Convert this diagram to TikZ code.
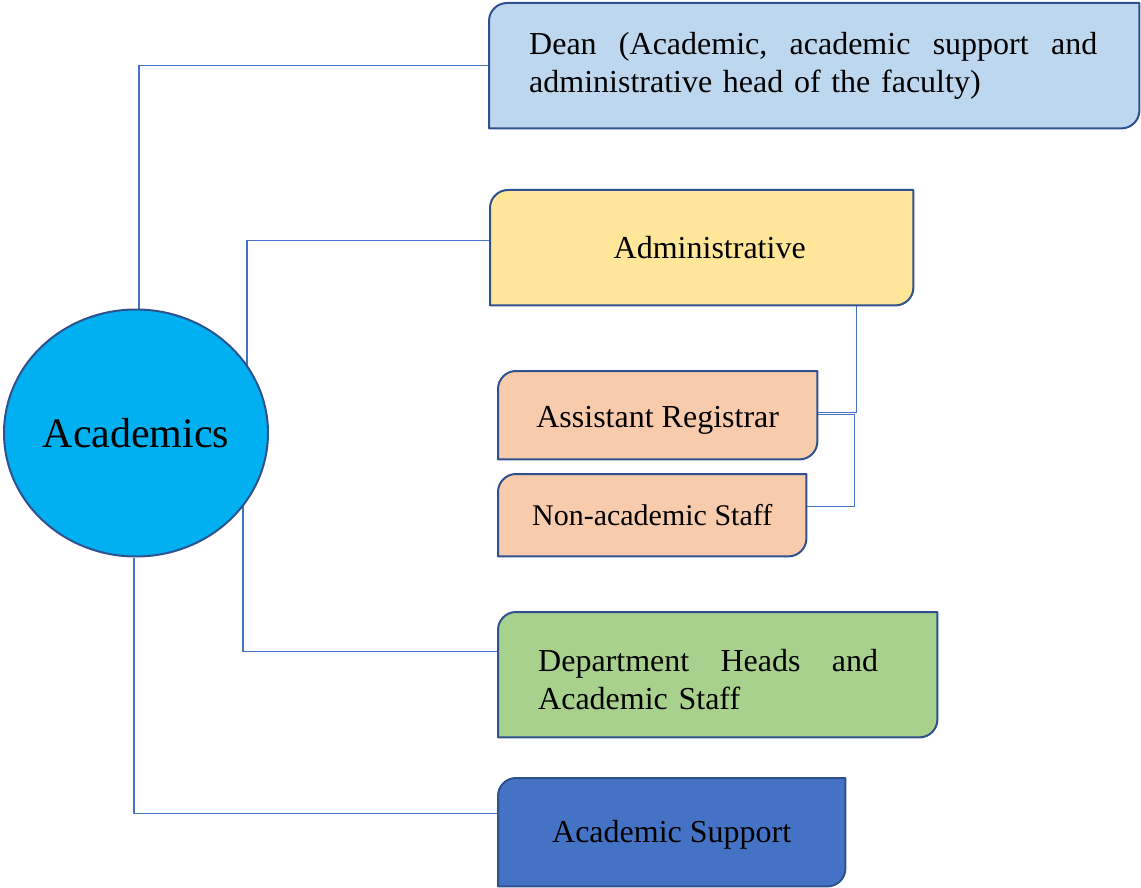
\documentclass[tikz,border=0pt]{standalone}
\usepackage{fontspec}
\setmainfont{Liberation Serif}
\usetikzlibrary{calc,shapes.geometric,backgrounds}
\definecolor{edgecol}{HTML}{2F528F}
\definecolor{linkcol}{HTML}{4472C4}
\definecolor{circcol}{HTML}{00B0F0}
\definecolor{deancol}{HTML}{BDD7EE}
\definecolor{admcol}{HTML}{FFE699}
\definecolor{peachcol}{HTML}{F8CBAD}
\definecolor{greencol}{HTML}{A9D18E}
\definecolor{bluecol}{HTML}{4472C4}
\tikzset{
  box/.style={rectangle, anchor=north west, inner sep=0pt, align=center,
    font=\fontsize{32}{38}\selectfont},
  conn/.style={draw=linkcol, line width=1.2pt},
}
\newcommand\cornerbox[2]{%
  \path[draw=edgecol, line width=2pt, fill=#2, line join=round]
    (#1.south west) -- ($(#1.north west)+(0,-18pt)$)
    arc[start angle=180, end angle=90, radius=18pt]
    -- (#1.north east) -- ($(#1.south east)+(0,18pt)$)
    arc[start angle=0, end angle=-90, radius=18pt] -- cycle;}
\begin{document}
\begin{tikzpicture}[x=1pt,y=1pt]
\useasboundingbox (0,0) rectangle (1141,-888);
\node[ellipse, draw=edgecol, line width=2pt, fill=circcol, minimum width=264pt,
  minimum height=247pt, inner sep=0pt, font=\fontsize{42}{48}\selectfont]
  (ac) at (136,-433) {Academics};
\node[box, minimum width=650pt, minimum height=125pt, text width=570pt, align=left]
  (dean) at (489,-3)
  {\hbox to 568pt{Dean\hfill(Academic,\hfill academic\hfill support\hfill and}\\administrative head of the faculty)};
\node[box, minimum width=423pt, minimum height=115pt, text width=407pt] (adm) at (490,-190)
  {\hspace*{16pt}Administrative};
\node[box, minimum width=319pt, minimum height=88pt, text height=32pt, text depth=7pt]
  (asst) at (498,-371) {Assistant Registrar};
\node[box, minimum width=308pt, minimum height=82pt, font=\fontsize{30}{36}\selectfont]
  (non) at (498,-474) {Non-academic Staff};
\node[box, minimum width=439pt, minimum height=125pt, text width=359pt, align=left, text depth=28pt]
  (dept) at (498,-612)
  {\hbox to 340pt{Department\hfill Heads\hfill and}\\Academic Staff};
\node[box, minimum width=347pt, minimum height=108pt, text height=28pt, text depth=7pt]
  (sup) at (498,-778) {Academic Support};
\begin{scope}[on background layer]
  \draw[conn] ([xshift=3pt]ac.north) |- (dean.west);
  \draw[conn] ([xshift=111pt]ac.center) |- ([yshift=7.5pt]adm.west);
  \draw[conn] ([xshift=107pt]ac.center) |- ([yshift=23pt]dept.west);
  \draw[conn] ([xshift=-2pt]ac.south) |- ([yshift=19pt]sup.west);
  \draw[conn] ([xshift=-57pt]adm.south east) |- ([yshift=3pt]asst.east);
  \draw[conn] ([yshift=1pt]asst.east) -| ($(non.east)+(48,9)$) -- ([yshift=9pt]non.east);
  \cornerbox{dean}{deancol}
  \cornerbox{adm}{admcol}
  \cornerbox{asst}{peachcol}
  \cornerbox{non}{peachcol}
  \cornerbox{dept}{greencol}
  \cornerbox{sup}{bluecol}
\end{scope}
\end{tikzpicture}
\end{document}
